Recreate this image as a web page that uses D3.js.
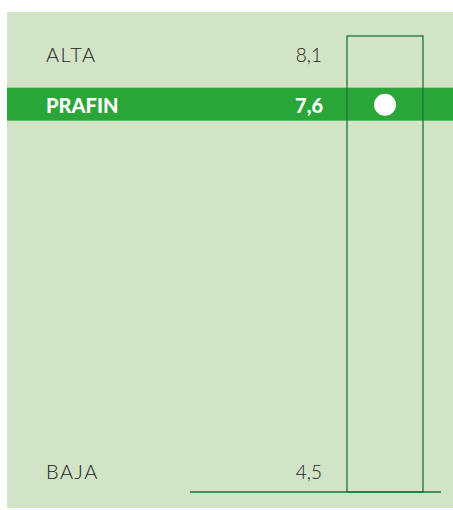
<!DOCTYPE html>
<html>
<head>
<meta charset="utf-8">
<script src="https://cdn.jsdelivr.net/npm/d3@7"></script>
<style>
  body { margin: 0; background: #fff; }
</style>
</head>
<body>
<div id="chart"></div>
<script>
// Data
const rangeLabels = ["ALTA", "BAJA"];
const rangeValues = [8.1, 4.5];
const pointLabel = "PRAFIN";
const pointValue = 7.6;

const width = 453;
const height = 510;

const fmt = v => d3.format(".1f")(v).replace(".", ",");

const svg = d3.select("#chart")
    .append("svg")
    .attr("width", width)
    .attr("height", height);

// panel background
svg.append("rect")
    .attr("x", 7)
    .attr("y", 12)
    .attr("width", width - 7)
    .attr("height", height - 14)
    .attr("fill", "#d1e4c5");

// Scale
const y = d3.scaleLinear()
    .domain([d3.min(rangeValues), d3.max(rangeValues)])
    .range([486, 42]);

const boxX = 347, boxW = 76;

// highlight band for the point
svg.append("rect")
    .attr("x", 7)
    .attr("y", y(pointValue) - 16)
    .attr("width", width - 7)
    .attr("height", 33)
    .attr("fill", "#2aa639");

// range box
svg.append("rect")
    .attr("x", boxX)
    .attr("y", y(d3.max(rangeValues)) - 6)
    .attr("width", boxW)
    .attr("height", y(d3.min(rangeValues)) - y(d3.max(rangeValues)) + 12)
    .attr("fill", "none")
    .attr("stroke", "#17763a")
    .attr("stroke-width", 1.3);

// baseline
svg.append("line")
    .attr("x1", 190)
    .attr("x2", 441)
    .attr("y1", y(d3.min(rangeValues)) + 6)
    .attr("y2", y(d3.min(rangeValues)) + 6)
    .attr("stroke", "#137a38")
    .attr("stroke-width", 1.6);

// range labels
const labelY = [62, 479];
rangeLabels.forEach((lab, i) => {
    svg.append("text")
        .attr("x", 46)
        .attr("y", labelY[i])
        .text(lab)
        .style("font-family", "Lato, sans-serif")
        .style("font-weight", 300)
        .style("font-size", "20px")
        .style("letter-spacing", "1.5px")
        .style("fill", "#222");
    svg.append("text")
        .attr("x", 322)
        .attr("y", labelY[i])
        .attr("text-anchor", "end")
        .text(fmt(rangeValues[i]))
        .style("font-family", "Lato, sans-serif")
        .style("font-weight", 300)
        .style("font-size", "19px")
        .style("fill", "#222");
});

// point label + value
svg.append("text")
    .attr("x", 46)
    .attr("y", y(pointValue) + 9)
    .text(pointLabel)
    .style("font-family", "Lato, sans-serif")
    .style("font-weight", 900)
    .style("font-size", "20px")
    .style("fill", "#fff");

svg.append("text")
    .attr("x", 323)
    .attr("y", y(pointValue) + 9)
    .attr("text-anchor", "end")
    .text(fmt(pointValue))
    .style("font-family", "Lato, sans-serif")
    .style("font-weight", 900)
    .style("font-size", "20px")
    .style("fill", "#fff");

// point
svg.append("circle")
    .attr("cx", boxX + boxW / 2)
    .attr("cy", y(pointValue) + 1)
    .attr("r", 11)
    .attr("fill", "#fff");
</script>
</body>
</html>
